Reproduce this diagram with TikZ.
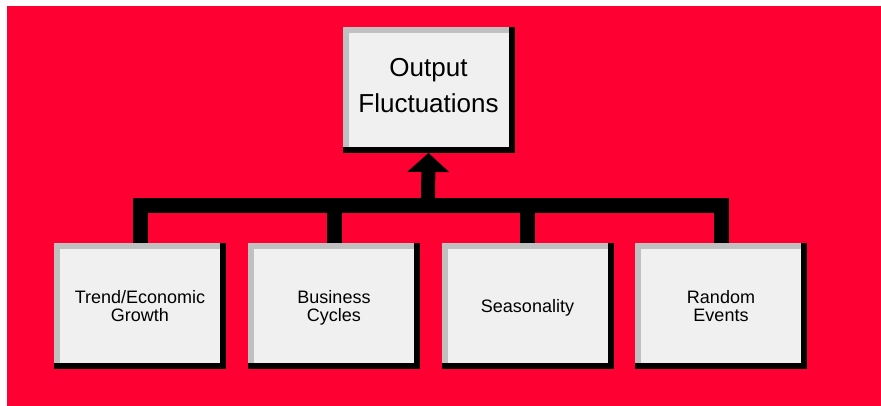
\documentclass[tikz,border=0pt]{standalone}
\usepackage{fontspec}
\setmainfont{Liberation Sans}
\usepackage{tikz}
\usetikzlibrary{arrows.meta}

\definecolor{slide}{HTML}{FF0033}
\definecolor{bevel}{HTML}{C0C0C0}
\definecolor{panel}{HTML}{F0F0F0}

\tikzset{
  box/.style={minimum width=172pt, minimum height=126pt, inner sep=0pt, outer sep=0pt,
    fill=black, align=center,
    path picture={
      \fill[bevel] (path picture bounding box.north west)
        rectangle ([shift={(-6pt,6pt)}]path picture bounding box.south east);
      \fill[panel] ([shift={(6pt,-6pt)}]path picture bounding box.north west)
        rectangle ([shift={(-6pt,6pt)}]path picture bounding box.south east);
    }},
  small/.style={font=\fontsize{18}{18}\selectfont, text depth=0pt},
  big/.style={font=\fontsize{26}{36}\selectfont, text depth=10pt},
  bus/.style={line width=15pt},
  up/.style={line width=14pt, -{Triangle[width=42pt,length=19pt,line width=0pt]}}
}

\begin{document}
\begin{tikzpicture}[x=1pt,y=-1pt]
\useasboundingbox (0,0) rectangle (881,406);
\fill[slide] (7,6) rectangle (881,406);

\node[box,big] (output) at (428.5,90) {Output\\Fluctuations};
\node[box,small] (trend) at (140,306) {Trend/Economic\\Growth};
\node[box,small] (cycles) at (334,306) {Business\\Cycles};
\node[box,small] (seasons) at (527.5,306) {Seasonality};
\node[box,small] (random) at (721,306) {Random\\Events};

\coordinate (hub) at (428,205.5);
\draw[bus] (trend.north) |- (hub) -| (random.north);
\draw[bus] (cycles.north) -- (cycles.north |- hub);
\draw[bus] (seasons.north) -- (seasons.north |- hub);
\draw[up] (hub) -- (output.south);
\end{tikzpicture}
\end{document}
